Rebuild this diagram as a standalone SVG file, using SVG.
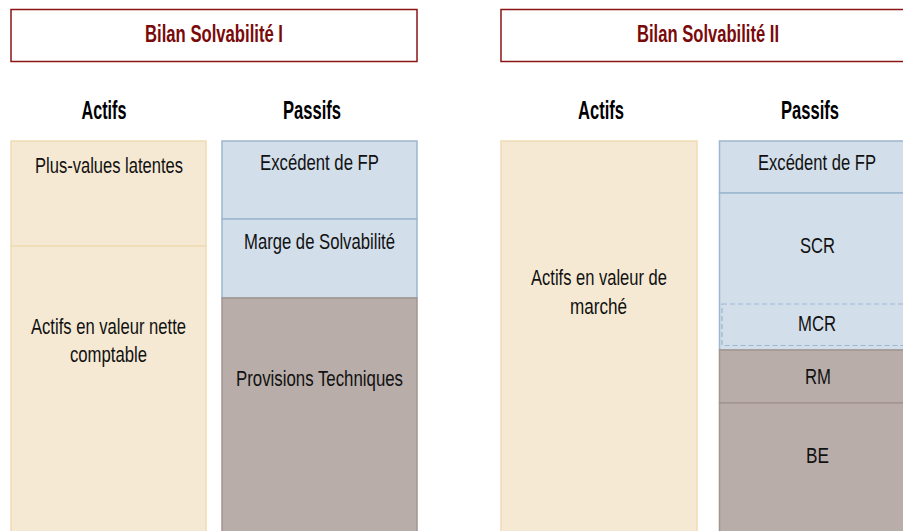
<svg xmlns="http://www.w3.org/2000/svg" width="903" height="531" viewBox="0 0 903 531">
<style>
.title{fill:#fff;stroke:#8B1414;stroke-width:1.5}
.tt{font-family:"Liberation Sans",Arial,sans-serif;font-weight:bold;font-size:24px;fill:#7A0A0A;text-anchor:middle}
.hd{font-family:"Liberation Sans",Arial,sans-serif;font-weight:bold;font-size:25px;fill:#000;text-anchor:middle}
.t{font-family:"Liberation Sans",Arial,sans-serif;font-size:22px;fill:#111;text-anchor:middle}
.act{fill:#F5E9D4;stroke:#F0DCB4;stroke-width:1.5}
.fp{fill:#D2DEEA;stroke:#9DB6CF;stroke-width:1.5}
.pt{fill:#B8ADA9;stroke:#A3948F;stroke-width:1.5}
.mcr{fill:none;stroke:#9DB6CF;stroke-width:1.2;stroke-dasharray:5,3}
</style>
<rect width="903" height="531" fill="#fff"/>
<g id="titre-s1">
<rect class="title" x="11" y="9.5" width="406" height="52"/>
<text class="tt" x="214" y="41.5" textLength="138" lengthAdjust="spacingAndGlyphs">Bilan Solvabilité I</text>
</g>
<g id="titre-s2">
<rect class="title" x="501" y="9.5" width="404" height="52"/>
<text class="tt" x="708" y="41.5" textLength="142" lengthAdjust="spacingAndGlyphs">Bilan Solvabilité II</text>
</g>
<g id="entetes">
<text class="hd" x="104" y="119" textLength="45" lengthAdjust="spacingAndGlyphs">Actifs</text>
<text class="hd" x="312" y="119" textLength="58" lengthAdjust="spacingAndGlyphs">Passifs</text>
<text class="hd" x="601" y="119" textLength="46" lengthAdjust="spacingAndGlyphs">Actifs</text>
<text class="hd" x="810" y="119" textLength="58" lengthAdjust="spacingAndGlyphs">Passifs</text>
</g>
<g id="s1-plus-values">
<rect class="act" x="11" y="141" width="195" height="105"/>
<text class="t" x="109" y="172.5" textLength="148" lengthAdjust="spacingAndGlyphs">Plus-values latentes</text>
</g>
<g id="s1-actifs-vnc">
<rect class="act" x="11" y="246" width="195" height="290"/>
<text class="t" x="108.5" y="334" textLength="155" lengthAdjust="spacingAndGlyphs">Actifs en valeur nette</text>
<text class="t" x="108.5" y="362" textLength="77" lengthAdjust="spacingAndGlyphs">comptable</text>
</g>
<g id="s1-excedent">
<rect class="fp" x="222" y="141" width="195" height="78"/>
<text class="t" x="319.5" y="169.5" textLength="119" lengthAdjust="spacingAndGlyphs">Excédent de FP</text>
</g>
<g id="s1-marge">
<rect class="fp" x="222" y="219" width="195" height="79"/>
<text class="t" x="319.5" y="248.5" textLength="151" lengthAdjust="spacingAndGlyphs">Marge de Solvabilité</text>
</g>
<g id="s1-provisions">
<rect class="pt" x="222" y="298" width="195" height="238"/>
<text class="t" x="319.5" y="386" textLength="167" lengthAdjust="spacingAndGlyphs">Provisions Techniques</text>
</g>
<g id="s2-actifs">
<rect class="act" x="501" y="141" width="196" height="395"/>
<text class="t" x="599" y="285" textLength="136" lengthAdjust="spacingAndGlyphs">Actifs en valeur de</text>
<text class="t" x="598.5" y="314" textLength="57" lengthAdjust="spacingAndGlyphs">marché</text>
</g>
<g id="s2-excedent">
<rect class="fp" x="719.5" y="141" width="185" height="52"/>
<text class="t" x="817" y="170" textLength="118" lengthAdjust="spacingAndGlyphs">Excédent de FP</text>
</g>
<g id="s2-scr">
<rect class="fp" x="719.5" y="193" width="185" height="157"/>
<text class="t" x="817.5" y="253" textLength="35" lengthAdjust="spacingAndGlyphs">SCR</text>
</g>
<g id="s2-mcr">
<rect class="mcr" x="722" y="304" width="183" height="41.5"/>
<text class="t" x="817" y="331" textLength="38" lengthAdjust="spacingAndGlyphs">MCR</text>
</g>
<g id="s2-rm">
<rect class="pt" x="719.5" y="350" width="185" height="53"/>
<text class="t" x="818" y="384" textLength="26" lengthAdjust="spacingAndGlyphs">RM</text>
</g>
<g id="s2-be">
<rect class="pt" x="719.5" y="403" width="185" height="133"/>
<text class="t" x="817.5" y="463" textLength="23" lengthAdjust="spacingAndGlyphs">BE</text>
</g>
<g id="connecteurs"/>
</svg>
